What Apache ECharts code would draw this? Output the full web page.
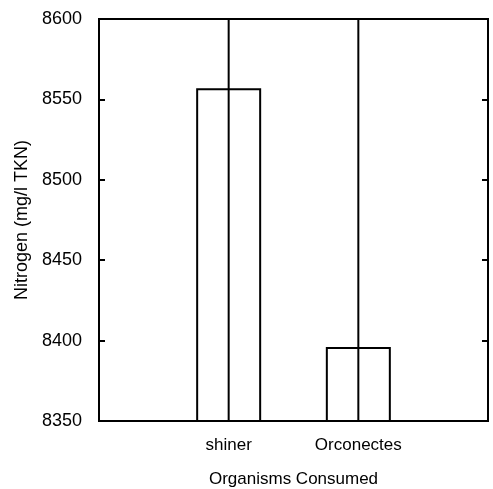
<!DOCTYPE html>
<html>
<head>
<meta charset="utf-8">
<script src="https://cdn.jsdelivr.net/npm/echarts@6/dist/echarts.min.js"></script>
<style>
html,body{margin:0;padding:0;background:#fff;}
#chart{width:493px;height:489px;}
</style>
</head>
<body>
<div id="chart"></div>
<script>
// Data
const categories = ['', 'shiner', 'Orconectes', ''];
const means = [null, 8557, 8396, null];
const sds = [null, 260, 240, null];
const yTicks = [8350, 8400, 8450, 8500, 8550, 8600];

const yMin = yTicks[0], yMax = yTicks[yTicks.length - 1];
const errData = [];
for (let i = 0; i < categories.length; i++) {
  if (means[i] != null) errData.push([i, means[i] - sds[i], means[i] + sds[i]]);
}

const font = '"Liberation Sans", Arial, sans-serif';
const axisLineStyle = {show: true, lineStyle: {color: '#000', width: 2}};
const chart = echarts.init(document.getElementById('chart'), null, {renderer: 'canvas'});
chart.setOption({
  animation: false,
  backgroundColor: '#fff',
  grid: {left: 99, top: 19, right: 5, bottom: 68, show: true, borderColor: '#000', borderWidth: 2, backgroundColor: 'transparent', containLabel: false, outerBoundsMode: 'none'},
  xAxis: {
    type: 'category',
    data: categories,
    boundaryGap: false,
    axisLine: axisLineStyle,
    axisTick: {show: false},
    splitLine: {show: false},
    axisLabel: {color: '#000', fontFamily: font, fontSize: 17, margin: 16, interval: 0},
    name: 'Organisms Consumed',
    nameLocation: 'middle',
    nameGap: 50,
    nameTextStyle: {color: '#000', fontFamily: font, fontSize: 17}
  },
  yAxis: [{
    type: 'value',
    min: yMin, max: yMax, interval: 50,
    axisLine: axisLineStyle,
    axisTick: {show: true, inside: true, length: 6, lineStyle: {color: '#000', width: 2}},
    splitLine: {show: false},
    axisLabel: {color: '#000', fontFamily: font, fontSize: 18, margin: 17, formatter: function (v) { return String(v); }},
    name: 'Nitrogen (mg/l TKN)',
    nameLocation: 'middle',
    nameGap: 67,
    nameRotate: 90,
    nameTextStyle: {color: '#000', fontFamily: font, fontSize: 18}
  }, {
    type: 'value',
    position: 'right',
    min: yMin, max: yMax, interval: 50,
    axisLine: axisLineStyle,
    axisTick: {show: true, inside: true, length: 6, lineStyle: {color: '#000', width: 2}},
    splitLine: {show: false},
    axisLabel: {show: false}
  }],
  series: [{
    type: 'bar',
    data: means,
    barWidth: 65,
    itemStyle: {color: '#fff', borderColor: '#000', borderWidth: 2},
    z: 2
  }, {
    type: 'custom',
    data: errData,
    z: 3,
    clip: true,
    renderItem: function (params, api) {
      const x = api.value(0);
      const lo = Math.max(api.value(1), yMin);
      const hi = Math.min(api.value(2), yMax);
      const p1 = api.coord([x, lo]);
      const p2 = api.coord([x, hi]);
      return {
        type: 'line',
        shape: {x1: p1[0], y1: p1[1], x2: p2[0], y2: p2[1]},
        style: {stroke: '#000', lineWidth: 2}
      };
    }
  }]
});
</script>
</body>
</html>
